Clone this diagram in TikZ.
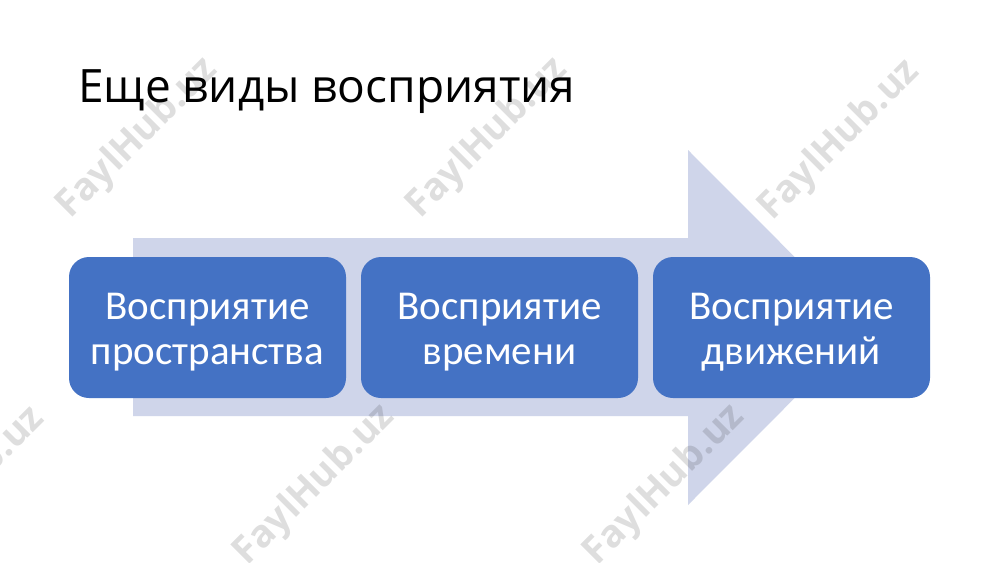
\documentclass[tikz,border=0pt]{standalone}
\usepackage{fontspec}
\setmainfont{Carlito}
\newfontfamily\titlefont{Open Sans}
\newfontfamily\wmfont{Open Sans}[BoldFont={Open Sans Bold}]
\definecolor{boxblue}{RGB}{68,114,196}
\definecolor{arrowfill}{RGB}{207,213,234}
\tikzset{
  stage/.style={fill=boxblue, rounded corners=20pt, minimum width=277pt, minimum height=141pt, inner sep=0pt},
  stagetext/.style={text=white, align=center, font=\fontsize{41}{45}\selectfont, inner sep=0pt},
  wm/.style={rotate=45, text=black, opacity=0.13, font=\wmfont\bfseries\fontsize{38}{38}\selectfont}
}
\begin{document}
\begin{tikzpicture}[x=1pt,y=-1pt]
\useasboundingbox[fill=white] (0,0) rectangle (1000,562);
% big arrow
\fill[arrowfill] (133,238) -- (688,238) -- (688,150) -- (865,327.5) -- (688,505) -- (688,416) -- (133,416) -- cycle;
% stages
\node[stage] (s1) at (207.5,327.5) {};
\node[stage] (s2) at (499.5,327.5) {};
\node[stage] (s3) at (791.5,327.5) {};
\node[stagetext, yshift=-5pt] (t1) at (s1.center) {Восприятие\\пространства};
\node[stagetext, yshift=-5pt] (t2) at (s2.center) {Восприятие\\времени};
\node[stagetext, yshift=-5pt] (t3) at (s3.center) {Восприятие\\движений};
% title
\node[anchor=base west, inner sep=0pt, font=\titlefont\fontsize{46}{50}\selectfont] (title) at (78,102) {Еще виды восприятия};
% watermarks
\node[wm] (w1) at (138,138) {FaylHub.uz};
\node[wm] (w2) at (488,138) {FaylHub.uz};
\node[wm] (w3) at (840,140) {FaylHub.uz};
\node[wm] (w4) at (-35,487) {FaylHub.uz};
\node[wm] (w5) at (315,485) {FaylHub.uz};
\node[wm] (w6) at (665,485) {FaylHub.uz};
\end{tikzpicture}
\end{document}
